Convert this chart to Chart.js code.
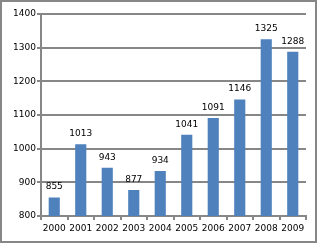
<!DOCTYPE html>
<html>
<head>
<meta charset="utf-8">
<script src="https://cdn.jsdelivr.net/npm/chart.js@4/dist/chart.umd.min.js"></script>
<style>
  html, body { margin: 0; padding: 0; background: #fff; }
  #wrap { position: absolute; left: 0; top: 0; width: 313px; height: 239px; border: 2px solid #878787; }
</style>
</head>
<body>
<div id="wrap"><canvas id="chart" width="313" height="239"></canvas></div>
<script>
const years = ['2000', '2001', '2002', '2003', '2004', '2005', '2006', '2007', '2008', '2009'];
const values = [855, 1013, 943, 877, 934, 1041, 1091, 1146, 1325, 1288];
const yMin = 800, yMax = 1400, yStep = 100;

const font = { family: 'DejaVu Sans', size: 9 };

// labels above each bar
const barLabels = {
    id: 'barLabels',
    afterDatasetsDraw(chart) {
        const ctx = chart.ctx;
        const meta = chart.getDatasetMeta(0);
        ctx.save();
        ctx.font = font.size + 'px ' + font.family;
        ctx.fillStyle = '#000';
        ctx.textAlign = 'center';
        ctx.textBaseline = 'bottom';
        meta.data.forEach(function (bar, i) {
            ctx.fillText(values[i], bar.x, bar.y - 6);
        });
        ctx.restore();
    }
};

new Chart(document.getElementById('chart'), {
    type: 'bar',
    data: {
        labels: years,
        datasets: [{
            data: values,
            backgroundColor: '#4F81BD',
            barPercentage: 0.84,
            categoryPercentage: 0.5
        }]
    },
    options: {
        responsive: false,
        animation: false,
        layout: { padding: { top: 12, right: 9, left: 0, bottom: 0 } },
        plugins: { legend: { display: false }, tooltip: { enabled: false } },
        scales: {
            x: {
                grid: { offset: true, drawOnChartArea: false, color: '#878787', lineWidth: 2, tickLength: 4 },
                border: { display: true, color: '#878787', width: 2 },
                ticks: { color: '#000', font: font, padding: 3, maxRotation: 0, autoSkip: false },
                afterFit(scale) { scale.height = 25; }
            },
            y: {
                min: yMin,
                max: yMax,
                grid: { color: '#878787', lineWidth: 2, tickLength: 4 },
                border: { display: true, color: '#878787', width: 2 },
                ticks: { stepSize: yStep, color: '#000', font: font, padding: 1, callback: v => String(v) },
                afterFit(scale) { scale.width = 39; }
            }
        }
    },
    plugins: [barLabels]
});
</script>
</body>
</html>
